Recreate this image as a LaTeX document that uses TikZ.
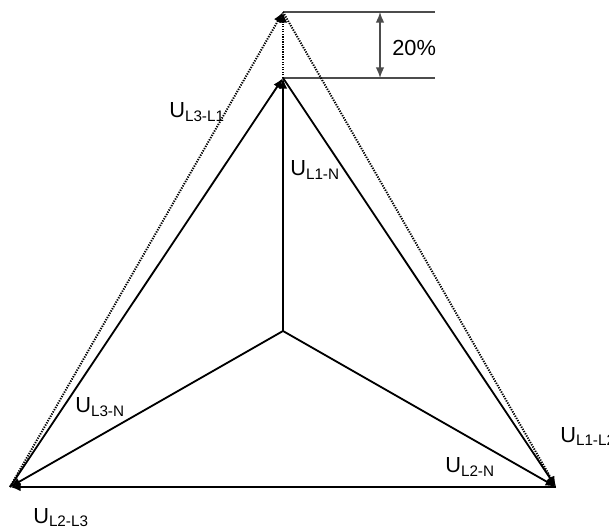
\documentclass[tikz,border=0pt]{standalone}
\usepackage{fontspec}
\setmainfont{Liberation Sans}
\usepackage{tikz}
\usetikzlibrary{positioning,calc,arrows.meta}

\begin{document}
\begin{tikzpicture}[->, >={Latex[length=7.5pt,width=6pt]}, vec/.style = {line width=1.3pt}, dots/.style = {line width=1.4pt, dash pattern=on 0.9pt off 0.9pt}, dim/.style = {-, line width=1pt, draw=black!70}, lab/.style = {inner sep=0pt, anchor=base west, font=\fontsize{15.5pt}{18pt}\selectfont}]

\useasboundingbox (0,0) rectangle (15.225,13.2);

\coordinate (n) at (7.075,4.925);
\coordinate (1) at (7.075,11.25);
\coordinate (2) at (13.9,1.025);
\coordinate (3) at (0.25,1.025);
\coordinate (t) at (7.075,12.9);
\coordinate (d) at (10.875,12.9);
\coordinate (e) at (10.875,11.25);

\draw[dim] (t) -- (d);
\draw[dim] (1) -- (e);
\draw[<->, line width=1pt, draw=black!70] (9.5,12.9) -- (9.5,11.25);
\node[lab] (pct) at (9.8,11.8) {20\%};

\draw[dots] (3) -- (t);
\draw[dots] (1) -- (t);
\draw[dots] (t) -- (2);

\draw[vec] (3) -- (1);
\draw[vec] (1) -- (2);
\draw[vec] (2) -- (3);
\draw[vec] (n) -- (1);
\draw[vec] (n) -- (2);
\draw[vec] (n) -- (3);

\node[lab] (u31) at (4.225,10.25) {U\textsubscript{L3-L1}};
\node[lab] (u1n) at (7.25,8.8) {U\textsubscript{L1-N}};
\node[lab] (u3n) at (1.875,2.875) {U\textsubscript{L3-N}};
\node[lab] (u2n) at (11.125,1.375) {U\textsubscript{L2-N}};
\node[lab] (u12) at (14.0,2.15) {U\textsubscript{L1-L2}};
\node[lab] (u23) at (0.825,0.125) {U\textsubscript{L2-L3}};
\end{tikzpicture}
\end{document}
